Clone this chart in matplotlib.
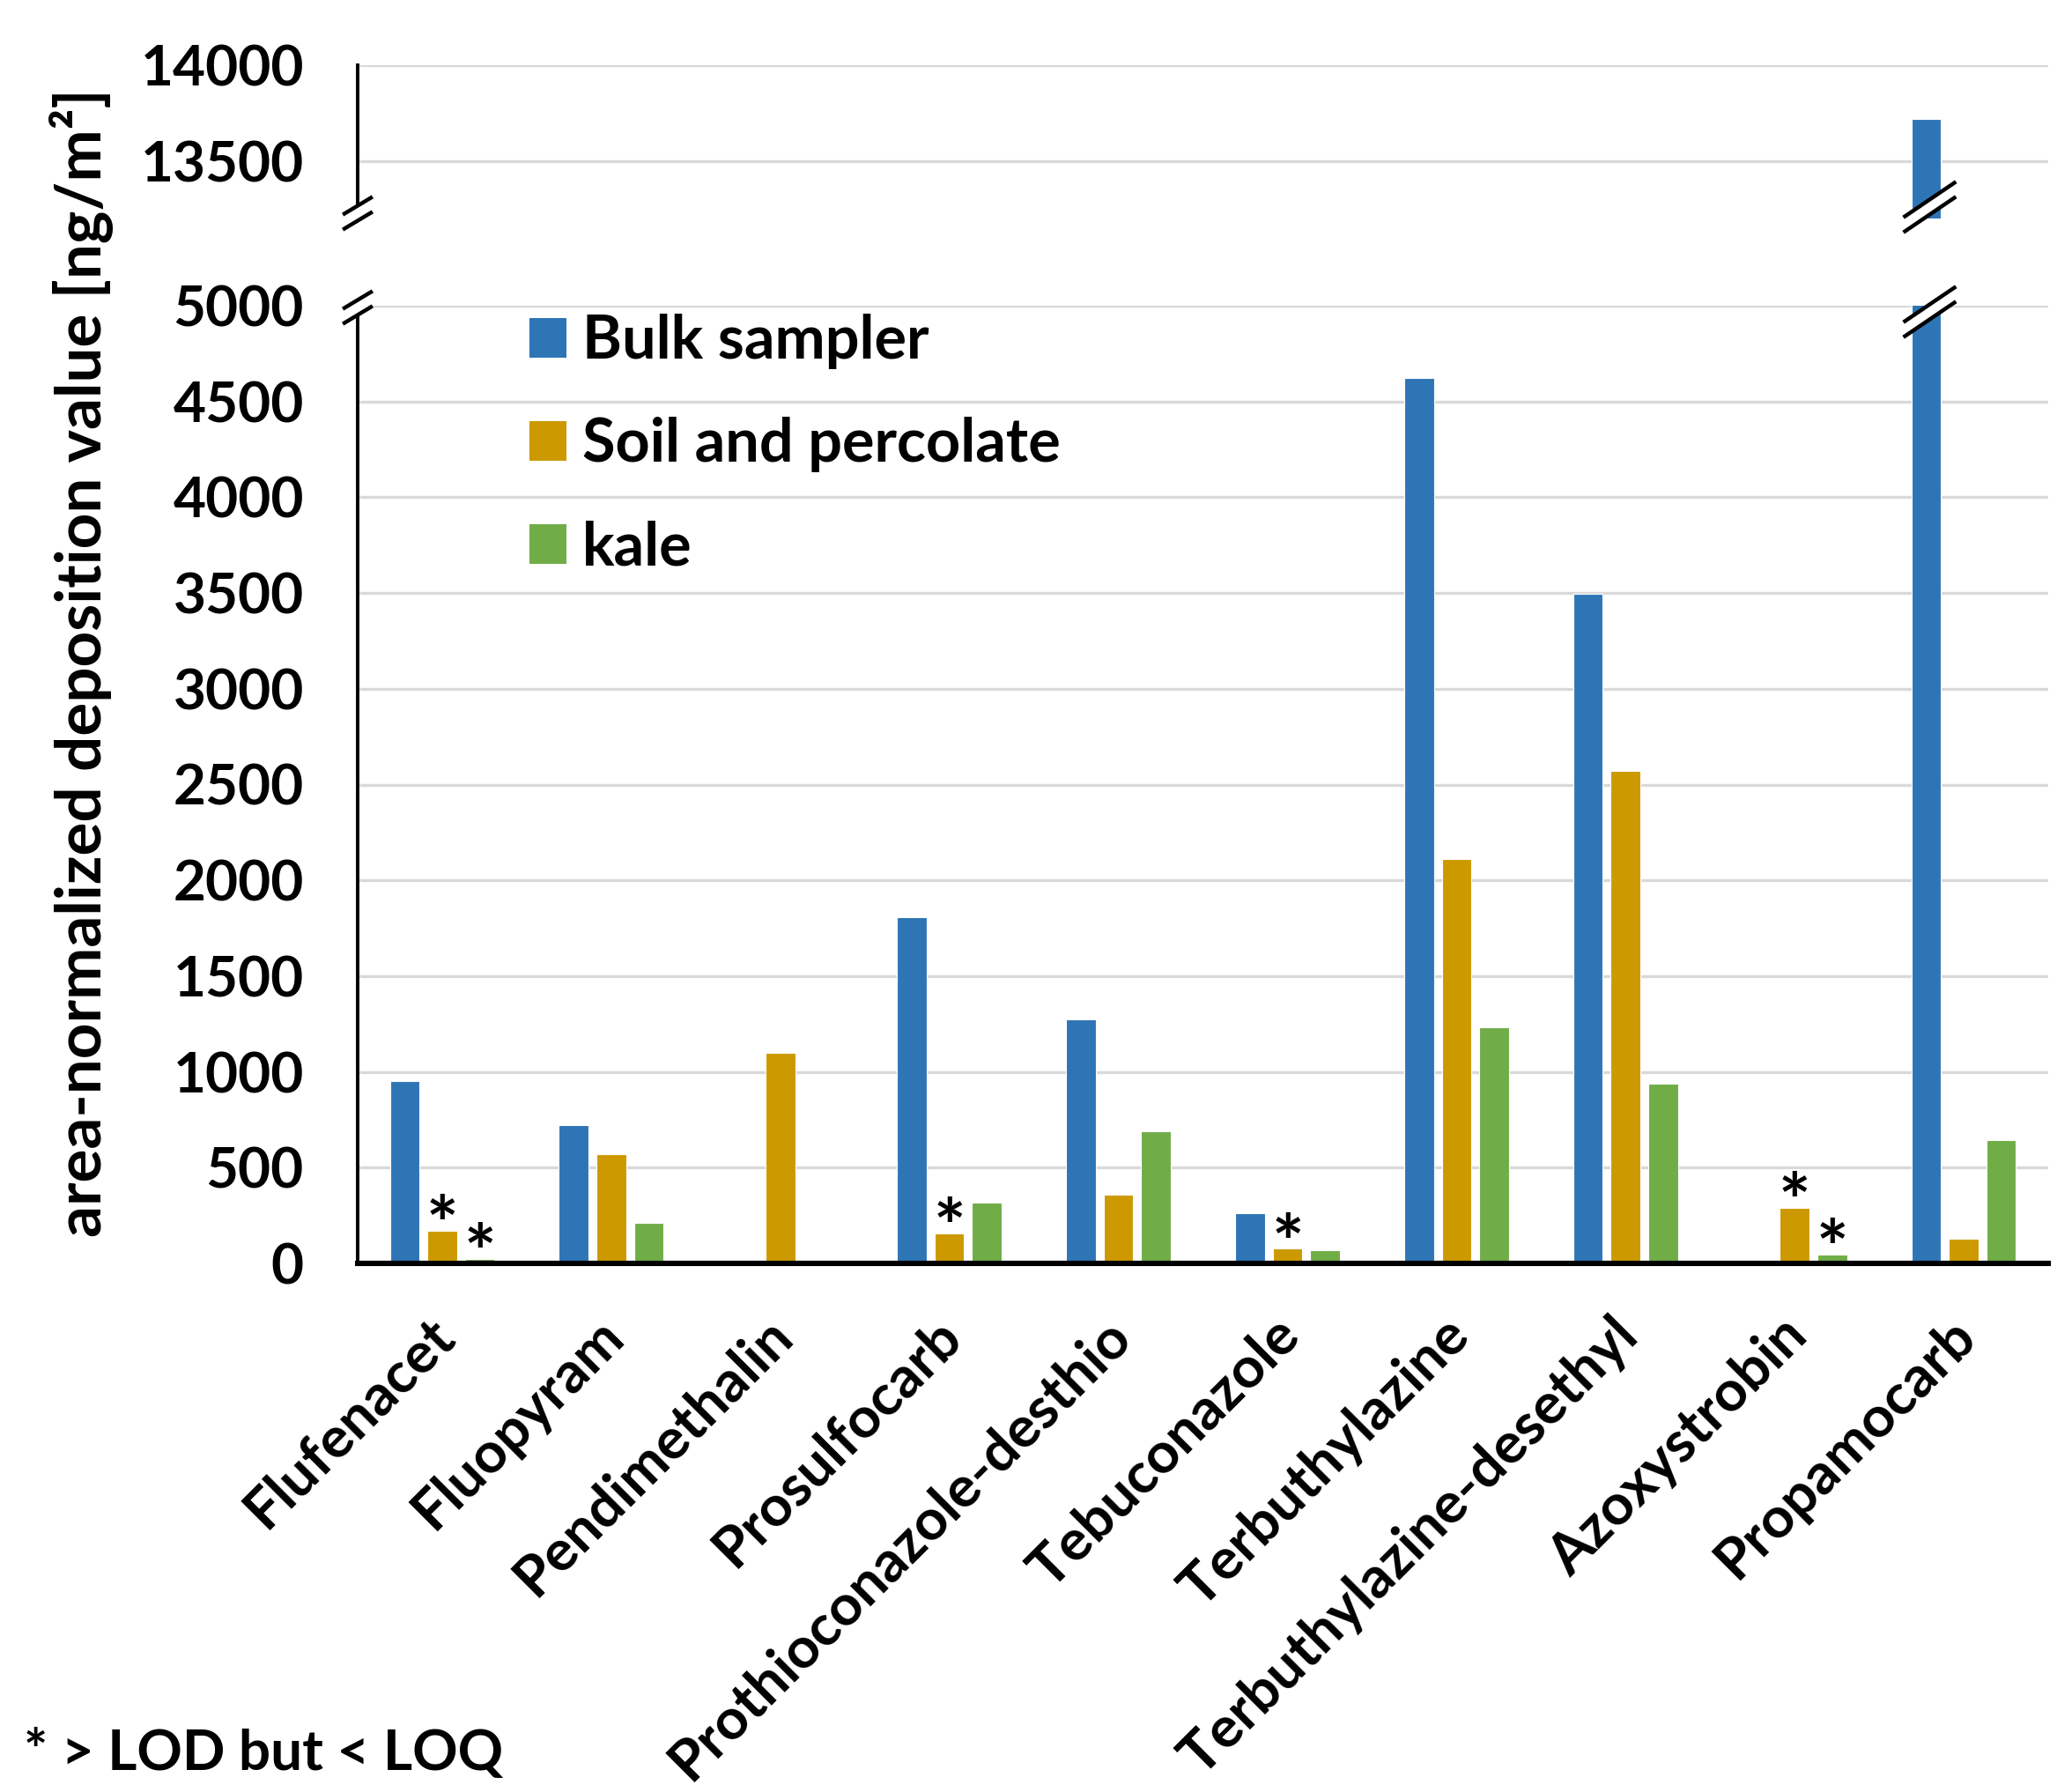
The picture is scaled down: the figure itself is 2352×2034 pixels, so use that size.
import numpy as np
import matplotlib
matplotlib.use("Agg")
import matplotlib.pyplot as plt
from matplotlib.lines import Line2D
from matplotlib.patches import Polygon, Patch
from matplotlib.transforms import ScaledTranslation

plt.rcParams['font.family'] = ['Lato', 'DejaVu Sans']
plt.rcParams['font.weight'] = 'bold'

categories = ["Flufenacet", "Fluopyram", "Pendimethalin", "Prosulfocarb",
              "Prothioconazole-desthio", "Tebuconazole", "Terbuthylazine",
              "Terbuthylazine-desethyl", "Azoxystrobin", "Propamocarb"]
series_names = ["Bulk sampler", "Soil and percolate", "kale"]
bulk = [950, 720, 0, 1810, 1275, 262, 4625, 3495, 0, 13720]
soil = [170, 570, 1100, 155, 359, 76, 2110, 2572, 290, 129]
kale = [22, 212, 0, 317, 690, 69, 1234, 938, 46, 645]
soil_below_loq = [True, False, False, True, False, True, False, False, True, False]
kale_below_loq = [True, False, False, False, False, False, False, False, True, False]
lower_ticks = [0, 500, 1000, 1500, 2000, 2500, 3000, 3500, 4000, 4500, 5000]
upper_ticks = [13500, 14000]

colors = ["#2E75B6", "#CC9900", "#70AD47"]
grid_c = "#D9D9D9"
FS_TICK = 23
FS_CAT = 23.4
FS_LEG = 24.6
FS_YLAB = 25.5
FS_NOTE = 23

W, H = 2352, 2034
DPI = 200
fig = plt.figure(figsize=(W / DPI, H / DPI), dpi=DPI)

def fx(px):
    return px / W

def fy(py):
    return 1 - py / H

left, right = 406, 2325
ax = fig.add_axes([fx(left), fy(1434), fx(right - left), fy(347) - fy(1434)])
axt = fig.add_axes([fx(left), fy(248), fx(right - left), fy(74) - fy(248)])

x = np.arange(len(categories))
width = 0.175
step = 0.222
data = [bulk, soil, kale]
for a in (ax, axt):
    for i, (vals, c) in enumerate(zip(data, colors)):
        a.bar(x + (i - 1) * step, vals, width=width, color=c, edgecolor='white',
              linewidth=0.4, zorder=3)
    a.set_xlim(-0.5, len(categories) - 0.5)
    for s in ('top', 'right'):
        a.spines[s].set_visible(False)
    a.spines['left'].set_linewidth(1.4)
    a.spines['left'].set_zorder(5)
    a.tick_params(axis='y', length=0, pad=22, labelsize=FS_TICK)
    a.yaxis.grid(True, color=grid_c, linewidth=1.2, zorder=0)
    a.set_axisbelow(True)

ax.set_ylim(0, 5000)
ax.set_yticks(lower_ticks)
ax.spines['bottom'].set_linewidth(2.2)
ax.spines['bottom'].set_zorder(5)
ax.set_xticks(x)
ax.set_xticklabels(categories, rotation=45, ha='right', va='center',
                   rotation_mode='anchor', fontsize=FS_CAT, fontweight='bold')
ax.tick_params(axis='x', length=0, pad=0)
for lbl in ax.get_xticklabels():
    lbl.set_transform(lbl.get_transform() + ScaledTranslation(4 / DPI, -72 / DPI, fig.dpi_scale_trans))

axt.set_ylim(13200, 14000)
axt.set_yticks(upper_ticks)
axt.spines['bottom'].set_visible(False)
axt.set_xticks([])
axt.spines['left'].set_bounds(13200 + 60, 14000)

for a in (ax, axt):
    for lbl in a.get_yticklabels():
        lbl.set_fontweight('bold')

# asterisks for values > LOD but < LOQ
for i in range(len(categories)):
    if soil_below_loq[i]:
        ax.annotate("*", xy=(x[i], soil[i]), xytext=(0, -8.3), textcoords='offset points',
                    ha='center', va='baseline', fontsize=31, fontweight='bold', zorder=6)
    if kale_below_loq[i]:
        ax.annotate("*", xy=(x[i] + step, kale[i]), xytext=(0, -8.3), textcoords='offset points',
                    ha='center', va='baseline', fontsize=31, fontweight='bold', zorder=6)

# legend
handles = [Patch(facecolor=c, edgecolor='none') for c in colors]
leg = ax.legend(handles, series_names, loc='upper left', bbox_to_anchor=(0.080, 1.029),
                frameon=False, handlelength=0.62, handleheight=0.62, borderpad=0.1,
                handletextpad=0.26, labelspacing=0.79,
                prop={'weight': 'bold', 'size': FS_LEG})

# break marks
fig.canvas.draw()
inv = fig.transFigure.inverted()

def mark(xd_disp, yd_disp, hw, hh, gap, white=True):
    for k in (-gap / 2, gap / 2):
        p0 = inv.transform((xd_disp - hw, yd_disp - hh + k))
        p1 = inv.transform((xd_disp + hw, yd_disp + hh + k))
        fig.add_artist(Line2D([p0[0], p1[0]], [p0[1], p1[1]], color='black',
                              linewidth=1.6, transform=fig.transFigure, zorder=10))
    if white:
        pts = [(xd_disp - hw, yd_disp - hh - gap / 2), (xd_disp + hw, yd_disp + hh - gap / 2),
               (xd_disp + hw, yd_disp + hh + gap / 2), (xd_disp - hw, yd_disp - hh + gap / 2)]
        pts = [inv.transform(p) for p in pts]
        fig.add_artist(Polygon(pts, closed=True, facecolor='white', edgecolor='none',
                               transform=fig.transFigure, zorder=9))

xl = ax.transAxes.transform((0, 0))[0]
yt_bottom = axt.transAxes.transform((0, 0))[1]
yb_top = ax.transAxes.transform((0, 1))[1]
mark(xl, yt_bottom + 6, 15, 9, 17)
mark(xl, yb_top - 2, 15, 9, 17)

xp = ax.transData.transform((x[-1] - step, 0))[0] + 4
mark(xp, yt_bottom + 13, 28, 19, 17)
mark(xp, yb_top - 7, 28, 19, 17)

fig.text(fx(93), fy(752), "area-normalized deposition value [ng/m²]", rotation=90,
         ha='center', va='center', fontsize=FS_YLAB, fontweight='bold')
fig.text(fx(27), fy(1990), "* > LOD but < LOQ", ha='left', va='center',
         fontsize=FS_NOTE, fontweight='bold')

fig.savefig("out.png", dpi=DPI, facecolor='white')
